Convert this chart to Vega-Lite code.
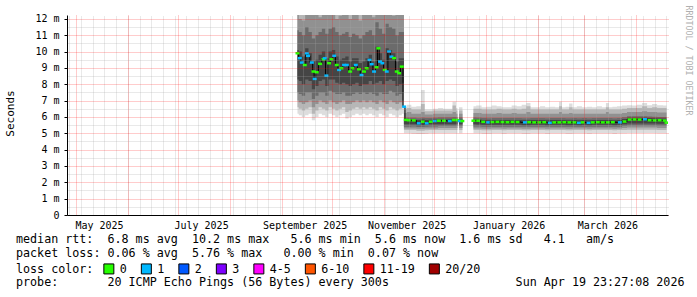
{
  "$schema": "https://vega.github.io/schema/vega-lite/v6.json",
  "width": 601,
  "height": 200,
  "autosize": {"type": "none"},
  "padding": {"left": 67, "top": 15, "right": 29, "bottom": 82},
  "background": "#ffffff",
  "config": {"view": {"stroke": null}, "font": "DejaVu Sans Mono", "axis": {"labelOverlap": false}},
  "title": {
    "text": [
      "median\u00a0rtt:\u00a0\u00a06.8\u00a0ms\u00a0avg\u00a0\u00a010.2\u00a0ms\u00a0max\u00a0\u00a0\u00a05.6\u00a0ms\u00a0min\u00a0\u00a05.6\u00a0ms\u00a0now\u00a0\u00a01.6\u00a0ms\u00a0sd\u00a0\u00a0\u00a04.1\u00a0\u00a0\u00a0am/s",
      "packet\u00a0loss:\u00a00.06\u00a0%\u00a0avg\u00a0\u00a05.76\u00a0%\u00a0max\u00a0\u00a0\u00a00.00\u00a0%\u00a0min\u00a0\u00a00.07\u00a0%\u00a0now"
    ],
    "subtitle": "probe:\u00a0\u00a0\u00a0\u00a0\u00a0\u00a0\u00a020\u00a0ICMP\u00a0Echo\u00a0Pings\u00a0(56\u00a0Bytes)\u00a0every\u00a0300s\u00a0\u00a0\u00a0\u00a0\u00a0\u00a0\u00a0\u00a0\u00a0\u00a0\u00a0\u00a0\u00a0\u00a0\u00a0\u00a0\u00a0\u00a0Sun\u00a0Apr\u00a019\u00a023:27:08\u00a02026",
    "orient": "bottom",
    "anchor": "start",
    "frame": "group",
    "dx": -51,
    "offset": -42,
    "font": "DejaVu Sans Mono",
    "fontSize": 11.7,
    "fontWeight": "normal",
    "color": "#000000",
    "lineHeight": 14,
    "baseline": "top",
    "subtitleFont": "DejaVu Sans Mono",
    "subtitleFontSize": 11.7,
    "subtitleFontWeight": "normal",
    "subtitleColor": "#000000",
    "subtitleLineHeight": 14,
    "subtitlePadding": 17
  },
  "datasets": {
    "smoke": [
      {"t":"2025-09-10T10:00","l1":6.2,"l2":6.6,"l3":7.0,"l4":7.5,"l5":8.3,"h5":10.1,"h4":11.3,"h3":12.6,"h2":13,"h1":13},
      {"t":"2025-09-12T00:00","l1":6.1,"l2":6.5,"l3":6.9,"l4":7.4,"l5":8.2,"h5":10.0,"h4":11.2,"h3":12.0,"h2":13,"h1":13},
      {"t":"2025-09-14T00:00","l1":6.0,"l2":6.4,"l3":6.8,"l4":7.3,"l5":8.0,"h5":9.7,"h4":11.0,"h3":11.9,"h2":13,"h1":13},
      {"t":"2025-09-16T00:00","l1":6.1,"l2":6.5,"l3":6.9,"l4":7.5,"l5":8.3,"h5":10.2,"h4":11.5,"h3":12.8,"h2":13,"h1":13},
      {"t":"2025-09-18T00:00","l1":6.2,"l2":6.6,"l3":7.0,"l4":7.5,"l5":8.2,"h5":9.9,"h4":11.2,"h3":12.5,"h2":13,"h1":13},
      {"t":"2025-09-20T00:00","l1":5.8,"l2":6.2,"l3":6.6,"l4":7.1,"l5":7.7,"h5":9.4,"h4":10.8,"h3":12.3,"h2":13,"h1":13},
      {"t":"2025-09-22T00:00","l1":6.0,"l2":6.4,"l3":6.8,"l4":7.3,"l5":7.9,"h5":9.5,"h4":11.0,"h3":12.4,"h2":13,"h1":13},
      {"t":"2025-09-24T00:00","l1":6.2,"l2":6.6,"l3":7.0,"l4":7.5,"l5":8.2,"h5":9.8,"h4":11.2,"h3":12.1,"h2":13,"h1":13},
      {"t":"2025-09-26T00:00","l1":6.1,"l2":6.5,"l3":6.9,"l4":7.5,"l5":8.3,"h5":10.0,"h4":11.4,"h3":12.9,"h2":13,"h1":13},
      {"t":"2025-09-28T00:00","l1":6.0,"l2":6.4,"l3":6.8,"l4":7.3,"l5":7.9,"h5":9.6,"h4":11.1,"h3":12.5,"h2":13,"h1":13},
      {"t":"2025-09-30T00:00","l1":6.2,"l2":6.6,"l3":7.0,"l4":7.6,"l5":8.3,"h5":10.0,"h4":11.4,"h3":12.7,"h2":13,"h1":13},
      {"t":"2025-10-02T00:00","l1":6.1,"l2":6.5,"l3":6.9,"l4":7.5,"l5":8.3,"h5":10.1,"h4":11.5,"h3":12.8,"h2":13,"h1":13},
      {"t":"2025-10-04T00:00","l1":6.0,"l2":6.4,"l3":6.8,"l4":7.4,"l5":8.1,"h5":9.7,"h4":11.2,"h3":12.0,"h2":13,"h1":13},
      {"t":"2025-10-06T00:00","l1":6.1,"l2":6.5,"l3":6.9,"l4":7.4,"l5":8.0,"h5":9.5,"h4":11.0,"h3":12.2,"h2":13,"h1":13},
      {"t":"2025-10-08T00:00","l1":6.2,"l2":6.6,"l3":7.0,"l4":7.5,"l5":8.1,"h5":9.6,"h4":11.1,"h3":12.4,"h2":13,"h1":13},
      {"t":"2025-10-10T00:00","l1":5.9,"l2":6.3,"l3":6.8,"l4":7.3,"l5":8.0,"h5":9.7,"h4":11.2,"h3":12.6,"h2":13,"h1":13},
      {"t":"2025-10-12T00:00","l1":6.0,"l2":6.4,"l3":6.8,"l4":7.3,"l5":7.9,"h5":9.4,"h4":10.9,"h3":12.0,"h2":13,"h1":13},
      {"t":"2025-10-14T00:00","l1":6.1,"l2":6.5,"l3":6.9,"l4":7.4,"l5":8.0,"h5":9.6,"h4":11.1,"h3":12.5,"h2":13,"h1":13},
      {"t":"2025-10-16T00:00","l1":6.2,"l2":6.6,"l3":7.0,"l4":7.5,"l5":8.1,"h5":9.6,"h4":11.0,"h3":12.3,"h2":13,"h1":13},
      {"t":"2025-10-18T00:00","l1":6.1,"l2":6.5,"l3":6.9,"l4":7.4,"l5":7.9,"h5":9.3,"h4":10.8,"h3":11.9,"h2":13,"h1":13},
      {"t":"2025-10-20T00:00","l1":6.2,"l2":6.6,"l3":7.0,"l4":7.5,"l5":8.0,"h5":9.4,"h4":11.0,"h3":12.4,"h2":13,"h1":13},
      {"t":"2025-10-22T00:00","l1":6.1,"l2":6.5,"l3":6.9,"l4":7.4,"l5":8.0,"h5":9.6,"h4":11.2,"h3":12.6,"h2":13,"h1":13},
      {"t":"2025-10-24T00:00","l1":6.2,"l2":6.6,"l3":7.0,"l4":7.5,"l5":8.2,"h5":9.8,"h4":11.3,"h3":12.7,"h2":13,"h1":13},
      {"t":"2025-10-26T00:00","l1":6.1,"l2":6.5,"l3":6.9,"l4":7.4,"l5":8.0,"h5":9.4,"h4":11.0,"h3":12.1,"h2":13,"h1":13},
      {"t":"2025-10-28T00:00","l1":6.0,"l2":6.4,"l3":6.8,"l4":7.3,"l5":8.1,"h5":10.3,"h4":11.8,"h3":13,"h2":13,"h1":13},
      {"t":"2025-10-30T00:00","l1":6.2,"l2":6.6,"l3":7.0,"l4":7.5,"l5":8.2,"h5":9.9,"h4":11.4,"h3":12.7,"h2":13,"h1":13},
      {"t":"2025-11-01T00:00","l1":6.1,"l2":6.5,"l3":6.9,"l4":7.4,"l5":8.0,"h5":9.5,"h4":11.1,"h3":12.5,"h2":13,"h1":13},
      {"t":"2025-11-03T00:00","l1":6.0,"l2":6.4,"l3":6.8,"l4":7.4,"l5":8.2,"h5":10.2,"h4":11.7,"h3":13,"h2":13,"h1":13},
      {"t":"2025-11-05T00:00","l1":6.2,"l2":6.6,"l3":7.0,"l4":7.6,"l5":8.3,"h5":10.1,"h4":11.5,"h3":12.8,"h2":13,"h1":13},
      {"t":"2025-11-07T00:00","l1":6.1,"l2":6.5,"l3":6.9,"l4":7.5,"l5":8.2,"h5":9.9,"h4":11.4,"h3":12.2,"h2":13,"h1":13},
      {"t":"2025-11-09T00:00","l1":6.0,"l2":6.4,"l3":6.8,"l4":7.3,"l5":7.9,"h5":9.4,"h4":11.0,"h3":12.5,"h2":13,"h1":13},
      {"t":"2025-11-11T00:00","l1":6.1,"l2":6.5,"l3":6.9,"l4":7.4,"l5":8.0,"h5":9.6,"h4":11.2,"h3":12.6,"h2":13,"h1":13},
      {"t":"2025-11-12T14:00","l1":6.2,"l2":6.6,"l3":7.0,"l4":7.5,"l5":8.1,"h5":9.6,"h4":11.2,"h3":12.6,"h2":13,"h1":13},
      {"t":"2025-11-13T14:00","l1":5.0,"l2":5.2,"l3":5.3,"l4":5.4,"l5":5.55,"h5":5.85,"h4":5.95,"h3":6.25,"h2":6.5,"h1":6.6},
      {"t":"2025-11-16T00:00","l1":5.0,"l2":5.2,"l3":5.3,"l4":5.4,"l5":5.55,"h5":5.85,"h4":5.95,"h3":6.3,"h2":6.55,"h1":6.75},
      {"t":"2025-11-19T00:00","l1":4.98,"l2":5.2,"l3":5.3,"l4":5.42,"l5":5.55,"h5":5.83,"h4":5.95,"h3":6.2,"h2":6.45,"h1":6.62},
      {"t":"2025-11-22T00:00","l1":4.95,"l2":5.15,"l3":5.28,"l4":5.38,"l5":5.5,"h5":5.82,"h4":5.92,"h3":6.2,"h2":6.45,"h1":6.65},
      {"t":"2025-11-24T12:00","l1":4.95,"l2":5.15,"l3":5.28,"l4":5.38,"l5":5.5,"h5":5.84,"h4":5.95,"h3":6.3,"h2":6.8,"h1":7.65},
      {"t":"2025-11-26T12:00","l1":4.97,"l2":5.18,"l3":5.3,"l4":5.4,"l5":5.52,"h5":5.82,"h4":5.93,"h3":6.15,"h2":6.35,"h1":6.45},
      {"t":"2025-11-29T00:00","l1":5.0,"l2":5.2,"l3":5.3,"l4":5.42,"l5":5.55,"h5":5.83,"h4":5.94,"h3":6.15,"h2":6.35,"h1":6.45},
      {"t":"2025-12-02T00:00","l1":5.0,"l2":5.2,"l3":5.3,"l4":5.42,"l5":5.55,"h5":5.84,"h4":5.95,"h3":6.2,"h2":6.4,"h1":6.5},
      {"t":"2025-12-05T00:00","l1":5.0,"l2":5.2,"l3":5.32,"l4":5.44,"l5":5.56,"h5":5.85,"h4":5.96,"h3":6.2,"h2":6.4,"h1":6.55},
      {"t":"2025-12-08T00:00","l1":5.0,"l2":5.2,"l3":5.32,"l4":5.44,"l5":5.56,"h5":5.85,"h4":5.96,"h3":6.2,"h2":6.4,"h1":6.5},
      {"t":"2025-12-11T00:00","l1":5.0,"l2":5.2,"l3":5.32,"l4":5.44,"l5":5.56,"h5":5.86,"h4":5.97,"h3":6.2,"h2":6.4,"h1":6.5},
      {"t":"2025-12-13T06:00","l1":5.0,"l2":5.2,"l3":5.32,"l4":5.44,"l5":5.56,"h5":5.87,"h4":5.98,"h3":6.3,"h2":6.7,"h1":6.93},
      {"t":"2025-12-15T02:00","l1":5.0,"l2":5.2,"l3":5.32,"l4":5.44,"l5":5.56,"h5":5.87,"h4":5.98,"h3":6.2,"h2":6.4,"h1":6.55},
      {"t":"2025-12-15T14:00","l1":null,"l2":null,"l3":null,"l4":null,"l5":null,"h5":null,"h4":null,"h3":null,"h2":null,"h1":null},
      {"t":"2025-12-16T00:00","l1":5.0,"l2":5.2,"l3":5.32,"l4":5.44,"l5":5.56,"h5":5.86,"h4":5.97,"h3":6.2,"h2":6.4,"h1":6.6},
      {"t":"2025-12-18T02:00","l1":5.0,"l2":5.2,"l3":5.32,"l4":5.44,"l5":5.56,"h5":5.86,"h4":5.97,"h3":6.2,"h2":6.4,"h1":6.6},
      {"t":"2025-12-21T00:00","l1":null,"l2":null,"l3":null,"l4":null,"l5":null,"h5":null,"h4":null,"h3":null,"h2":null,"h1":null},
      {"t":"2025-12-24T16:00","l1":5.0,"l2":5.2,"l3":5.3,"l4":5.42,"l5":5.55,"h5":5.85,"h4":5.96,"h3":6.25,"h2":6.5,"h1":6.65},
      {"t":"2025-12-28T00:00","l1":5.0,"l2":5.2,"l3":5.3,"l4":5.42,"l5":5.54,"h5":5.84,"h4":5.95,"h3":6.25,"h2":6.5,"h1":6.7},
      {"t":"2025-12-31T00:00","l1":4.98,"l2":5.18,"l3":5.28,"l4":5.4,"l5":5.52,"h5":5.82,"h4":5.93,"h3":6.2,"h2":6.45,"h1":6.6},
      {"t":"2026-01-03T00:00","l1":4.98,"l2":5.18,"l3":5.28,"l4":5.4,"l5":5.52,"h5":5.8,"h4":5.92,"h3":6.2,"h2":6.45,"h1":6.62},
      {"t":"2026-01-06T00:00","l1":5.0,"l2":5.2,"l3":5.3,"l4":5.4,"l5":5.52,"h5":5.82,"h4":5.93,"h3":6.2,"h2":6.45,"h1":6.7},
      {"t":"2026-01-09T00:00","l1":5.0,"l2":5.2,"l3":5.3,"l4":5.4,"l5":5.52,"h5":5.82,"h4":5.93,"h3":6.25,"h2":6.5,"h1":6.65},
      {"t":"2026-01-12T00:00","l1":4.98,"l2":5.18,"l3":5.28,"l4":5.4,"l5":5.52,"h5":5.82,"h4":5.93,"h3":6.2,"h2":6.45,"h1":6.6},
      {"t":"2026-01-15T00:00","l1":5.0,"l2":5.2,"l3":5.3,"l4":5.4,"l5":5.52,"h5":5.82,"h4":5.93,"h3":6.2,"h2":6.45,"h1":6.6},
      {"t":"2026-01-18T00:00","l1":5.0,"l2":5.2,"l3":5.3,"l4":5.4,"l5":5.52,"h5":5.82,"h4":5.93,"h3":6.25,"h2":6.5,"h1":6.7},
      {"t":"2026-01-21T00:00","l1":5.0,"l2":5.2,"l3":5.3,"l4":5.4,"l5":5.52,"h5":5.82,"h4":5.93,"h3":6.2,"h2":6.45,"h1":6.65},
      {"t":"2026-01-24T00:00","l1":4.98,"l2":5.18,"l3":5.28,"l4":5.4,"l5":5.5,"h5":5.8,"h4":5.92,"h3":6.2,"h2":6.5,"h1":6.75},
      {"t":"2026-01-26T12:00","l1":4.98,"l2":5.18,"l3":5.28,"l4":5.4,"l5":5.5,"h5":5.8,"h4":5.92,"h3":6.3,"h2":6.65,"h1":6.86},
      {"t":"2026-01-29T00:00","l1":5.0,"l2":5.2,"l3":5.3,"l4":5.4,"l5":5.52,"h5":5.82,"h4":5.93,"h3":6.2,"h2":6.45,"h1":6.6},
      {"t":"2026-02-01T00:00","l1":5.0,"l2":5.2,"l3":5.3,"l4":5.4,"l5":5.52,"h5":5.82,"h4":5.93,"h3":6.2,"h2":6.45,"h1":6.6},
      {"t":"2026-02-04T00:00","l1":5.0,"l2":5.2,"l3":5.3,"l4":5.4,"l5":5.52,"h5":5.82,"h4":5.93,"h3":6.2,"h2":6.45,"h1":6.65},
      {"t":"2026-02-07T00:00","l1":4.98,"l2":5.18,"l3":5.28,"l4":5.4,"l5":5.5,"h5":5.8,"h4":5.92,"h3":6.2,"h2":6.45,"h1":6.6},
      {"t":"2026-02-10T00:00","l1":5.0,"l2":5.2,"l3":5.3,"l4":5.4,"l5":5.52,"h5":5.82,"h4":5.93,"h3":6.2,"h2":6.45,"h1":6.62},
      {"t":"2026-02-13T00:00","l1":5.0,"l2":5.2,"l3":5.3,"l4":5.4,"l5":5.52,"h5":5.82,"h4":5.93,"h3":6.2,"h2":6.45,"h1":6.6},
      {"t":"2026-02-14T18:00","l1":5.0,"l2":5.2,"l3":5.3,"l4":5.4,"l5":5.52,"h5":5.82,"h4":5.93,"h3":6.3,"h2":6.65,"h1":6.93},
      {"t":"2026-02-16T12:00","l1":5.0,"l2":5.2,"l3":5.3,"l4":5.4,"l5":5.52,"h5":5.82,"h4":5.93,"h3":6.2,"h2":6.45,"h1":6.6},
      {"t":"2026-02-19T00:00","l1":4.98,"l2":5.18,"l3":5.28,"l4":5.4,"l5":5.5,"h5":5.8,"h4":5.92,"h3":6.2,"h2":6.45,"h1":6.62},
      {"t":"2026-02-20T18:00","l1":4.98,"l2":5.18,"l3":5.28,"l4":5.4,"l5":5.5,"h5":5.8,"h4":5.92,"h3":6.25,"h2":6.6,"h1":6.83},
      {"t":"2026-02-23T00:00","l1":5.0,"l2":5.2,"l3":5.3,"l4":5.4,"l5":5.52,"h5":5.82,"h4":5.93,"h3":6.2,"h2":6.45,"h1":6.6},
      {"t":"2026-02-26T00:00","l1":5.0,"l2":5.2,"l3":5.3,"l4":5.4,"l5":5.5,"h5":5.8,"h4":5.92,"h3":6.2,"h2":6.45,"h1":6.65},
      {"t":"2026-03-01T00:00","l1":5.0,"l2":5.2,"l3":5.3,"l4":5.4,"l5":5.52,"h5":5.82,"h4":5.93,"h3":6.2,"h2":6.45,"h1":6.6},
      {"t":"2026-03-04T00:00","l1":4.98,"l2":5.18,"l3":5.28,"l4":5.4,"l5":5.5,"h5":5.8,"h4":5.92,"h3":6.2,"h2":6.45,"h1":6.62},
      {"t":"2026-03-07T00:00","l1":5.0,"l2":5.2,"l3":5.3,"l4":5.4,"l5":5.52,"h5":5.82,"h4":5.93,"h3":6.2,"h2":6.45,"h1":6.6},
      {"t":"2026-03-10T00:00","l1":5.0,"l2":5.2,"l3":5.3,"l4":5.4,"l5":5.52,"h5":5.82,"h4":5.93,"h3":6.2,"h2":6.45,"h1":6.65},
      {"t":"2026-03-13T00:00","l1":5.0,"l2":5.2,"l3":5.3,"l4":5.4,"l5":5.52,"h5":5.82,"h4":5.93,"h3":6.2,"h2":6.45,"h1":6.6},
      {"t":"2026-03-14T18:00","l1":5.0,"l2":5.2,"l3":5.3,"l4":5.4,"l5":5.52,"h5":5.82,"h4":5.93,"h3":6.3,"h2":6.6,"h1":6.86},
      {"t":"2026-03-16T12:00","l1":5.0,"l2":5.2,"l3":5.3,"l4":5.4,"l5":5.52,"h5":5.82,"h4":5.93,"h3":6.2,"h2":6.45,"h1":6.6},
      {"t":"2026-03-19T00:00","l1":4.98,"l2":5.18,"l3":5.28,"l4":5.4,"l5":5.5,"h5":5.8,"h4":5.92,"h3":6.2,"h2":6.45,"h1":6.62},
      {"t":"2026-03-22T00:00","l1":5.0,"l2":5.2,"l3":5.3,"l4":5.4,"l5":5.52,"h5":5.82,"h4":5.93,"h3":6.2,"h2":6.45,"h1":6.65},
      {"t":"2026-03-25T00:00","l1":5.0,"l2":5.2,"l3":5.32,"l4":5.45,"l5":5.56,"h5":5.88,"h4":5.98,"h3":6.25,"h2":6.5,"h1":6.7},
      {"t":"2026-03-28T00:00","l1":5.02,"l2":5.22,"l3":5.35,"l4":5.48,"l5":5.6,"h5":5.95,"h4":6.05,"h3":6.3,"h2":6.55,"h1":6.72},
      {"t":"2026-03-31T00:00","l1":5.02,"l2":5.22,"l3":5.35,"l4":5.48,"l5":5.6,"h5":5.95,"h4":6.05,"h3":6.3,"h2":6.55,"h1":6.7},
      {"t":"2026-04-03T00:00","l1":5.02,"l2":5.22,"l3":5.35,"l4":5.48,"l5":5.6,"h5":5.95,"h4":6.05,"h3":6.3,"h2":6.55,"h1":6.75},
      {"t":"2026-04-06T00:00","l1":5.02,"l2":5.22,"l3":5.35,"l4":5.48,"l5":5.6,"h5":5.95,"h4":6.05,"h3":6.35,"h2":6.65,"h1":6.86},
      {"t":"2026-04-09T00:00","l1":5.02,"l2":5.22,"l3":5.35,"l4":5.48,"l5":5.6,"h5":5.93,"h4":6.03,"h3":6.3,"h2":6.55,"h1":6.72},
      {"t":"2026-04-12T00:00","l1":5.02,"l2":5.22,"l3":5.35,"l4":5.48,"l5":5.6,"h5":5.92,"h4":6.02,"h3":6.3,"h2":6.6,"h1":6.8},
      {"t":"2026-04-15T00:00","l1":5.0,"l2":5.2,"l3":5.33,"l4":5.46,"l5":5.58,"h5":5.9,"h4":6.0,"h3":6.28,"h2":6.55,"h1":6.72},
      {"t":"2026-04-19T03:00","l1":5.0,"l2":5.2,"l3":5.33,"l4":5.46,"l5":5.58,"h5":5.9,"h4":6.0,"h3":6.28,"h2":6.55,"h1":6.7}
    ],
    "med": [
      {"t":"2025-09-10T10:00","m":9.9,"loss":"0"},
      {"t":"2025-09-11T19:00","m":9.6,"loss":"1"},
      {"t":"2025-09-13T00:00","m":9.33,"loss":"1"},
      {"t":"2025-09-14T19:00","m":9.18,"loss":"0"},
      {"t":"2025-09-16T00:00","m":9.9,"loss":"1"},
      {"t":"2025-09-16T17:00","m":9.74,"loss":"1"},
      {"t":"2025-09-19T00:00","m":9.33,"loss":"1"},
      {"t":"2025-09-20T00:00","m":8.78,"loss":"0"},
      {"t":"2025-09-20T17:00","m":8.33,"loss":"1"},
      {"t":"2025-09-21T22:00","m":8.74,"loss":"0"},
      {"t":"2025-09-23T22:00","m":9.25,"loss":"0"},
      {"t":"2025-09-26T00:00","m":9.53,"loss":"0"},
      {"t":"2025-09-26T17:00","m":9.59,"loss":"1"},
      {"t":"2025-09-27T17:00","m":8.53,"loss":"1"},
      {"t":"2025-09-29T07:00","m":9.29,"loss":"0"},
      {"t":"2025-09-30T17:00","m":9.53,"loss":"0"},
      {"t":"2025-10-02T07:00","m":9.74,"loss":"1"},
      {"t":"2025-10-03T22:00","m":9.18,"loss":"0"},
      {"t":"2025-10-05T07:00","m":8.88,"loss":"1"},
      {"t":"2025-10-06T17:00","m":8.98,"loss":"0"},
      {"t":"2025-10-08T07:00","m":9.18,"loss":"1"},
      {"t":"2025-10-09T22:00","m":9.18,"loss":"1"},
      {"t":"2025-10-11T22:00","m":8.78,"loss":"0"},
      {"t":"2025-10-13T07:00","m":8.98,"loss":"0"},
      {"t":"2025-10-15T07:00","m":9.18,"loss":"1"},
      {"t":"2025-10-17T05:00","m":8.92,"loss":"0"},
      {"t":"2025-10-18T17:00","m":8.57,"loss":"1"},
      {"t":"2025-10-20T05:00","m":8.78,"loss":"0"},
      {"t":"2025-10-21T19:00","m":8.98,"loss":"0"},
      {"t":"2025-10-23T12:00","m":9.49,"loss":"1"},
      {"t":"2025-10-24T19:00","m":9.23,"loss":"1"},
      {"t":"2025-10-26T05:00","m":8.78,"loss":"1"},
      {"t":"2025-10-27T17:00","m":9.04,"loss":"0"},
      {"t":"2025-10-28T19:00","m":10.2,"loss":"0"},
      {"t":"2025-10-29T19:00","m":9.39,"loss":"1"},
      {"t":"2025-10-31T05:00","m":9.29,"loss":"1"},
      {"t":"2025-11-01T15:00","m":8.88,"loss":"0"},
      {"t":"2025-11-02T19:00","m":8.78,"loss":"1"},
      {"t":"2025-11-04T05:00","m":10.0,"loss":"1"},
      {"t":"2025-11-05T14:00","m":9.69,"loss":"1"},
      {"t":"2025-11-07T05:00","m":9.6,"loss":"0"},
      {"t":"2025-11-08T19:00","m":8.78,"loss":"0"},
      {"t":"2025-11-10T05:00","m":8.68,"loss":"0"},
      {"t":"2025-11-11T19:00","m":9.08,"loss":"0"},
      {"t":"2025-11-13T05:00","m":6.63,"loss":"1"},
      {"t":"2025-11-14T05:00","m":5.82,"loss":"0"},
      {"t":"2025-11-16T00:00","m":5.8,"loss":"0"},
      {"t":"2025-11-19T00:00","m":5.79,"loss":"0"},
      {"t":"2025-11-21T22:00","m":5.61,"loss":"1"},
      {"t":"2025-11-24T07:00","m":5.71,"loss":"0"},
      {"t":"2025-11-26T17:00","m":5.61,"loss":"1"},
      {"t":"2025-11-29T02:00","m":5.71,"loss":"0"},
      {"t":"2025-12-01T12:00","m":5.75,"loss":"1"},
      {"t":"2025-12-04T00:00","m":5.77,"loss":"0"},
      {"t":"2025-12-07T00:00","m":5.77,"loss":"0"},
      {"t":"2025-12-10T12:00","m":5.75,"loss":"1"},
      {"t":"2025-12-12T22:00","m":5.81,"loss":"0"},
      {"t":"2025-12-15T02:00","m":5.81,"loss":"0"},
      {"t":"2025-12-15T14:00","m":null},
      {"t":"2025-12-16T12:00","m":5.75,"loss":"1"},
      {"t":"2025-12-18T00:00","m":5.75,"loss":"0"},
      {"t":"2025-12-21T00:00","m":null},
      {"t":"2025-12-24T16:00","m":5.77,"loss":"0"},
      {"t":"2025-12-27T12:00","m":5.77,"loss":"0"},
      {"t":"2025-12-30T12:00","m":5.7,"loss":"0"},
      {"t":"2026-01-02T05:00","m":5.67,"loss":"1"},
      {"t":"2026-01-05T00:00","m":5.69,"loss":"0"},
      {"t":"2026-01-08T00:00","m":5.7,"loss":"0"},
      {"t":"2026-01-11T00:00","m":5.69,"loss":"0"},
      {"t":"2026-01-14T00:00","m":5.68,"loss":"0"},
      {"t":"2026-01-17T00:00","m":5.7,"loss":"0"},
      {"t":"2026-01-20T00:00","m":5.69,"loss":"0"},
      {"t":"2026-01-24T10:00","m":5.67,"loss":"1"},
      {"t":"2026-01-27T00:00","m":5.68,"loss":"0"},
      {"t":"2026-01-30T00:00","m":5.67,"loss":"0"},
      {"t":"2026-02-02T00:00","m":5.67,"loss":"0"},
      {"t":"2026-02-05T00:00","m":5.68,"loss":"0"},
      {"t":"2026-02-08T08:00","m":5.64,"loss":"1"},
      {"t":"2026-02-11T00:00","m":5.67,"loss":"0"},
      {"t":"2026-02-14T00:00","m":5.67,"loss":"0"},
      {"t":"2026-02-17T00:00","m":5.68,"loss":"0"},
      {"t":"2026-02-20T00:00","m":5.67,"loss":"0"},
      {"t":"2026-02-23T00:00","m":5.67,"loss":"0"},
      {"t":"2026-02-25T17:00","m":5.64,"loss":"1"},
      {"t":"2026-02-28T00:00","m":5.67,"loss":"0"},
      {"t":"2026-03-03T12:00","m":5.64,"loss":"1"},
      {"t":"2026-03-06T00:00","m":5.67,"loss":"0"},
      {"t":"2026-03-09T00:00","m":5.68,"loss":"0"},
      {"t":"2026-03-12T00:00","m":5.67,"loss":"0"},
      {"t":"2026-03-15T00:00","m":5.67,"loss":"0"},
      {"t":"2026-03-18T00:00","m":5.68,"loss":"0"},
      {"t":"2026-03-22T05:00","m":5.67,"loss":"1"},
      {"t":"2026-03-25T00:00","m":5.72,"loss":"0"},
      {"t":"2026-03-28T00:00","m":5.84,"loss":"0"},
      {"t":"2026-03-31T00:00","m":5.85,"loss":"0"},
      {"t":"2026-04-03T00:00","m":5.84,"loss":"0"},
      {"t":"2026-04-06T05:00","m":5.86,"loss":"1"},
      {"t":"2026-04-09T00:00","m":5.8,"loss":"0"},
      {"t":"2026-04-12T00:00","m":5.79,"loss":"0"},
      {"t":"2026-04-15T00:00","m":5.8,"loss":"0"},
      {"t":"2026-04-18T00:00","m":5.78,"loss":"0"},
      {"t":"2026-04-19T03:00","m":5.65,"loss":"0"}
    ]
  },
  "layer": [
    {
      "data": {"name": "smoke"},
      "mark": {"type": "area", "interpolate": "step", "color": "#dddddd", "clip": true, "invalid": "break-paths-show-domains"},
      "encoding": {
        "x": {"field": "t", "type": "temporal",
          "scale": {"domain": [{"year": 2025, "month": 4, "date": 25, "hours": 14}, {"year": 2026, "month": 4, "date": 20, "hours": 0}], "nice": false},
          "axis": {"orient": "top", "tickCount": {"interval": "week", "step": 1}, "grid": true, "gridColor": "#a8a8a8", "gridOpacity": 0.5, "gridDash": [1, 1], "labels": false, "ticks": false, "domain": false, "title": null, "zindex": 1}},
        "y": {"field": "h1", "type": "quantitative",
          "scale": {"domain": [0, 12.24], "nice": false, "zero": false},
          "axis": {"orient": "right", "values": [0.5, 1.5, 2.5, 3.5, 4.5, 5.5, 6.5, 7.5, 8.5, 9.5, 10.5, 11.5], "grid": true, "gridColor": "#a8a8a8", "gridOpacity": 0.5, "gridDash": [1, 1], "labels": false, "ticks": false, "domain": false,
            "title": "RRDTOOL / TOBI OETIKER", "titleFont": "DejaVu Sans Mono", "titleFontSize": 8.3, "titleFontWeight": "normal", "titleColor": "#b0b0b0", "titleAngle": 90, "titleX": 19, "titleY": -10, "titleAlign": "left", "titleBaseline": "middle", "zindex": 1}},
        "y2": {"field": "l1"}
      }
    },
    {
      "layer": [
        {
          "data": {"name": "smoke"},
          "mark": {"type": "area", "interpolate": "step", "color": "#b7b7b7", "clip": true, "invalid": "break-paths-show-domains"},
          "encoding": {
            "x": {"field": "t", "type": "temporal",
              "scale": {"domain": [{"year": 2025, "month": 4, "date": 25, "hours": 14}, {"year": 2026, "month": 4, "date": 20, "hours": 0}], "nice": false},
              "axis": {"orient": "bottom", "tickCount": {"interval": "month", "step": 1}, "grid": true, "gridColor": "#ff0000", "gridOpacity": 0.4, "gridDash": [1, 1], "ticks": false, "domain": true, "domainColor": "#000000", "domainWidth": 1,
                "labelExpr": "month(datum.value) % 2 == 0 ? timeFormat(datum.value, '%B %Y') : ''", "labelOffset": 23, "labelFont": "DejaVu Sans Mono", "labelFontSize": 10, "labelColor": "#000000", "labelPadding": 5, "labelOverlap": false, "labelFlush": false, "labelBound": false, "title": null, "zindex": 1}},
            "y": {"field": "h2", "type": "quantitative",
              "scale": {"domain": [0, 12.24], "nice": false, "zero": false},
              "axis": {"orient": "left", "values": [0, 1, 2, 3, 4, 5, 6, 7, 8, 9, 10, 11, 12], "tickCount": 13, "grid": true, "gridColor": "#ff0000", "gridOpacity": 0.4, "gridDash": [1, 1], "ticks": true, "tickSize": 3, "tickColor": "#000000", "domain": true, "domainColor": "#000000",
                "labelExpr": "datum.value == 0 ? '0\u00a0\u00a0' : datum.value + ' m'", "labelFont": "DejaVu Sans Mono", "labelFontSize": 10, "labelColor": "#000000", "labelPadding": 5, "labelOverlap": false,
                "title": "Seconds", "titleFont": "DejaVu Sans Mono", "titleFontSize": 11, "titleFontWeight": "normal", "titleColor": "#000000", "titleX": -57, "titleY": 98, "titleAngle": -90, "titleAlign": "center", "titleBaseline": "middle", "zindex": 1}},
            "y2": {"field": "l2"}
          }
        },
        {
          "data": {"name": "smoke"},
          "mark": {"type": "area", "interpolate": "step", "color": "#919191", "clip": true, "invalid": "break-paths-show-domains"},
          "encoding": {"x": {"field": "t", "type": "temporal"}, "y": {"field": "h3", "type": "quantitative"}, "y2": {"field": "l3"}}
        },
        {
          "data": {"name": "smoke"},
          "mark": {"type": "area", "interpolate": "step", "color": "#6b6b6b", "clip": true, "invalid": "break-paths-show-domains"},
          "encoding": {"x": {"field": "t", "type": "temporal"}, "y": {"field": "h4", "type": "quantitative"}, "y2": {"field": "l4"}}
        },
        {
          "data": {"name": "smoke"},
          "mark": {"type": "area", "interpolate": "step", "color": "#454545", "clip": true, "invalid": "break-paths-show-domains"},
          "encoding": {"x": {"field": "t", "type": "temporal"}, "y": {"field": "h5", "type": "quantitative"}, "y2": {"field": "l5"}}
        },
        {
          "data": {"name": "med"},
          "mark": {"type": "line", "interpolate": "step", "color": "#000000", "strokeWidth": 1, "clip": true, "invalid": "break-paths-show-domains"},
          "encoding": {"x": {"field": "t", "type": "temporal"}, "y": {"field": "m", "type": "quantitative"}}
        },
        {
          "data": {"name": "med"},
          "mark": {"type": "tick", "orient": "horizontal", "size": 4, "thickness": 2.5, "opacity": 1, "clip": true},
          "encoding": {
            "x": {"field": "t", "type": "temporal"},
            "y": {"field": "m", "type": "quantitative"},
            "color": {"field": "loss", "type": "nominal",
              "scale": {"domain": ["0", "1", "2", "3", "4-5", "6-10", "11-19", "20/20"], "range": ["#26ff00", "#00b8ff", "#0059ff", "#7e00ff", "#ff00ff", "#ff5500", "#ff0000", "#a00000"]},
              "legend": {"orient": "none", "legendX": -51, "legendY": 248, "direction": "horizontal", "columns": 8, "title": "loss color:", "titleOrient": "left", "titleFont": "DejaVu Sans Mono", "titleFontSize": 11.7, "titleFontWeight": "normal", "titleColor": "#000000", "titlePadding": 9,
                "symbolType": "square", "symbolSize": 100, "symbolStrokeColor": "#000000", "symbolStrokeWidth": 1, "symbolOpacity": 1,
                "labelFont": "DejaVu Sans Mono", "labelFontSize": 11.7, "labelColor": "#000000", "labelOffset": 5, "columnPadding": 11.5}}
          }
        }
      ]
    }
  ],
  "resolve": {"scale": {"x": "independent", "y": "independent"}}
}
